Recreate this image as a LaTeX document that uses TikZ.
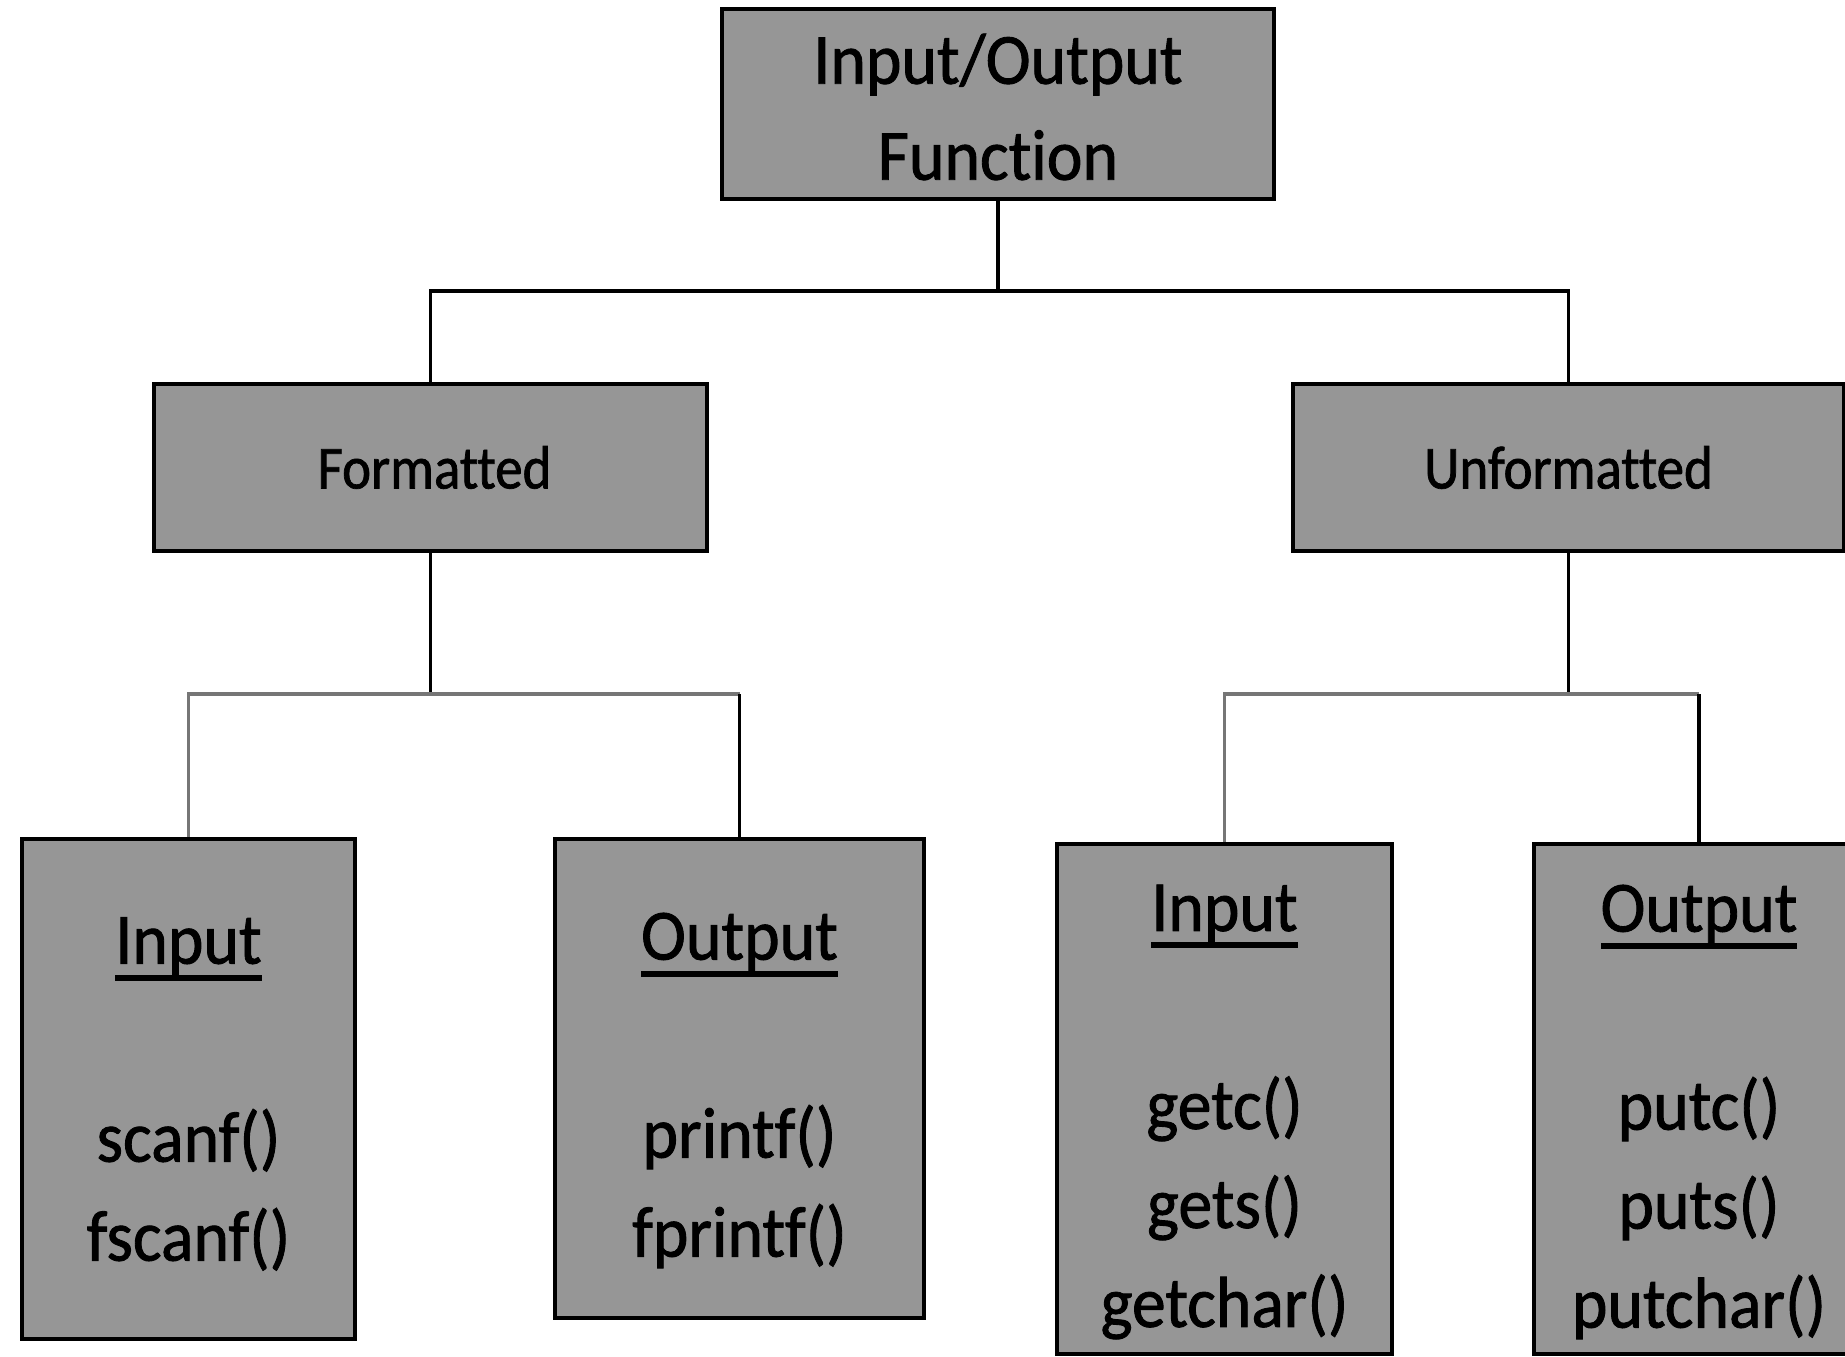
\documentclass[tikz,border=0pt]{standalone}
\usepackage{fontspec}
\setmainfont{Carlito}[Ligatures=NoCommon]
\newfontfamily\bigface{Carlito}[Ligatures=NoCommon, FakeStretch=0.94, FakeBold=1.2]
\newfontfamily\midface{Carlito}[Ligatures=NoCommon, FakeStretch=0.9, FakeBold=1.2]
\definecolor{boxfill}{HTML}{969696}
\definecolor{linkgray}{HTML}{767676}
% underlined heading with a heavy rule
\newcommand\headword[1]{\setbox0\hbox{#1}\rlap{\rule[-0.24em]{\wd0}{0.085em}}\box0}
\tikzset{
  box/.style={draw=black, line width=4pt, fill=boxfill, inner sep=0pt},
  words/.style={inner sep=0pt, align=center, text=black},
  bigtext/.style={words, font=\bigface\fontsize{72}{99}\selectfont},
  toptext/.style={words, font=\bigface\fontsize{72}{96}\selectfont},
  midtext/.style={words, font=\midface\fontsize{61}{70}\selectfont},
  link/.style={line width=3.5pt, black},
  sublink/.style={line width=3.5pt, linkgray},
}
\begin{document}
\begin{tikzpicture}[x=1pt, y=-1pt]
\path[use as bounding box, fill=white] (0,0) rectangle (1845,1357);

% root
\node[box, minimum width=552pt, minimum height=190pt] (root) at (998,104) {};
\node[toptext] (roottext) at ([yshift=-3pt]root.center) {Input/Output\\Function};

% second level
\node[box, minimum width=553pt, minimum height=167pt] (fmt) at (430.5,467.5) {};
\node[midtext] (fmttext) at ([xshift=4pt]fmt.center) {Formatted};
\node[box, minimum width=551pt, minimum height=167pt] (unf) at (1568.5,467.5) {};
\node[midtext] (unftext) at (unf.center) {Unformatted};

% leaves
\node[box, minimum width=333pt, minimum height=500pt] (fin) at (188.5,1089) {};
\node[bigtext] (fintext) at ([yshift=-5pt]fin.center)
  {\headword{Input}\\[99pt]scanf()\\fscanf()};
\node[box, minimum width=369pt, minimum height=479pt] (fout) at (739.5,1078.5) {};
\node[bigtext] (fouttext) at ([yshift=-12pt]fout.center)
  {\headword{Output}\\[99pt]printf()\\fprintf()};
\node[box, minimum width=335pt, minimum height=510pt] (uin) at (1224.5,1099) {};
\node[bigtext] (uintext) at ([yshift=-13pt]uin.center)
  {\headword{Input}\\[99pt]getc()\\gets()\\getchar()};
\node[box, minimum width=330pt, minimum height=510pt] (uout) at (1699,1099) {};
\node[bigtext] (uouttext) at ([yshift=-13pt]uout.center)
  {\headword{Output}\\[99pt]putc()\\puts()\\putchar()};

% junction points
\coordinate (j0) at (998,291);
\coordinate (jf) at (430.5,694);
\coordinate (ju) at (1568.5,694);

% root to second level
\draw[link] (root.south) -- (j0);
\draw[link] (fmt.north) |- (j0) -| (unf.north);

% formatted branch
\draw[link] (fmt.south) -- (jf);
\draw[sublink] (fin.north) |- (jf) -- (jf -| fout.north);
\draw[link] (jf -| fout.north) -- (fout.north);

% unformatted branch
\draw[link] (unf.south) -- (ju);
\draw[sublink] (uin.north) |- (ju) -- (ju -| uout.north);
\draw[link] (ju -| uout.north) -- (uout.north);
\end{tikzpicture}
\end{document}
